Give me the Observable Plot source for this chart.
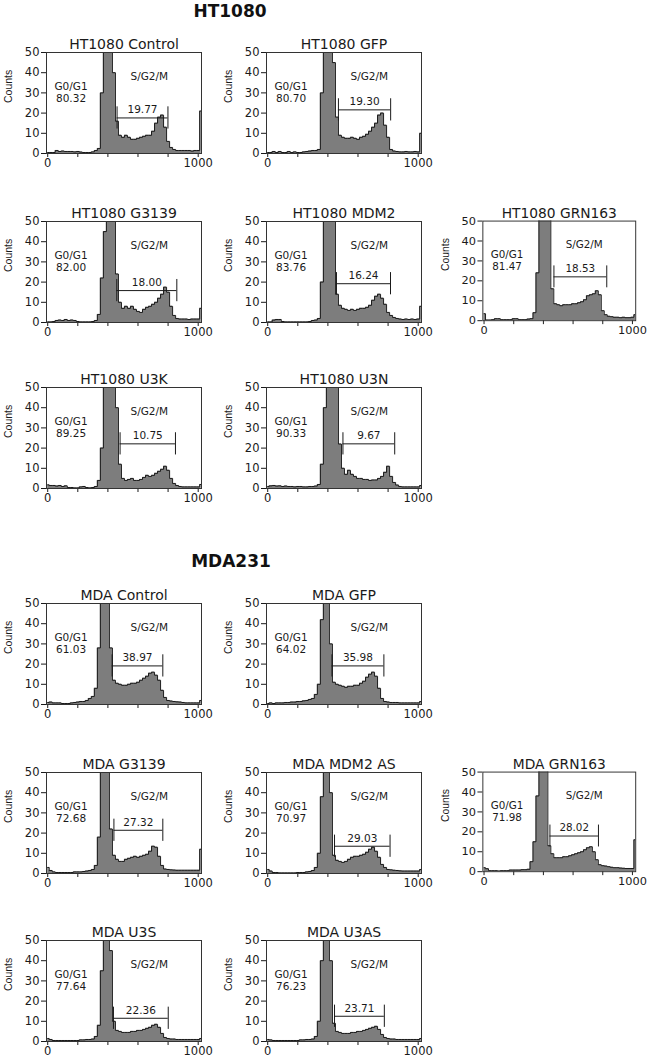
<!DOCTYPE html>
<html><head><meta charset="utf-8">
<script src="https://cdn.jsdelivr.net/npm/d3@7"></script>
<script src="https://cdn.jsdelivr.net/npm/@observablehq/plot@0.6"></script>
<style>
body{margin:0;background:#fff;}
#wrap{position:relative;width:650px;height:1058px;overflow:hidden;background:#fff;font-family:"DejaVu Sans";color:#111;}
.panel{position:absolute;}
.sec{position:absolute;font-weight:bold;font-size:17px;line-height:17px;transform:translateX(-50%);white-space:nowrap;}
</style></head><body><div id="wrap"></div>
<script>
// DNA content channels (bin positions)
const channels = [0,20,40,60,80,100,120,140,160,180,200,220,240,260,280,300,320,340,360,380,400,420,440,460,480,500,520,540,560,580,600,620,640,660,680,700,720,740,760,780,800,820,840,860,880,900,920,940,960,980,1000,1020];
const xTicks = [0,200,400,600,800,1000];
const yTicks = [0,10,20,30,40,50];

// counts per panel
const ht_control = [0.5,0.5,0.5,1.5,1,1.2,1,1,1,0.8, 1,0.7,0.5,0.5,0.5,0.8,1.5,2.5,30,80, 90,70,40,16,9,8,9,8,7,7, 7.5,8,8.5,9,9,11,15,18,19,13, 6,3,2,1.5,1.5,1.5,1.5,1.5,1.2,1.5, 1.5,21];
const ht_gfp = [0.5,0.5,1,0.5,1,0.5,0.5,1,0.5,0.8, 0.5,0.5,0.8,1,1.2,1.5,1.5,2,30,70, 95,80,45,18,9,8,7.5,7.5,8,7.5, 7,8,8.5,9.5,11,13,15,19,20,14, 8,2,1.2,1,0.8,0.8,1,0.8,0.8,1, 0.8,10];
const ht_g3139 = [0.3,0.3,0.5,1,1.2,1,1.5,1,1.2,1, 0.5,0.3,0.3,0.3,0.3,0.5,1,4,22,45, 90,85,60,24,10,7,8,7,8,6.5, 5.5,5,6.5,7.5,8,9,10,12,14,17.5, 15,8,3.5,2,1.7,1.7,1.7,1.5,1.7,1.7, 1.7,7];
const ht_mdm2 = [0.3,0.3,1.2,1.5,1.5,0.5,0.3,0.3,0.3,0.3, 0.3,0.3,0.3,0.3,0.5,1,1.2,2,20,55, 95,90,60,14,8.5,7,6.5,6,6.5,6, 6.5,7,7,7.5,8.5,11,13,14,12,9, 5,3.5,2.5,2,1.7,1.5,1.7,1.5,1.7,1.5, 1.7,8];
const ht_grn163 = [3.5,0.3,0.3,0.5,1,1,0.5,0.5,0.5,0.5, 1,1,0.5,0.5,0.5,0.8,1,4,24,60, 90,85,55,16,8.5,8,7.5,8,8,8, 8.5,8.5,9,9.5,10.5,12.5,13,13.5,15,13, 5,3,2.2,2,1.7,1.7,1.5,1.7,1.5,1.5, 1.7,3];
const ht_u3k = [1.8,1.5,1.5,1.2,1.5,1,1.3,0.5,0.5,0.3, 0.3,0.8,1,0.5,0.3,0.5,1,4,20,60, 100,100,80,40,12,5,4,4.5,5,4, 4,4.5,5.5,6.5,6,6.5,7.5,8.5,9.5,11, 9,5,2.5,1.5,1,0.8,0.8,0.8,0.8,0.8, 0.8,2];
const ht_u3n = [1,1.3,1.5,1.2,1.3,1,1.2,1,1,0.8, 1,1,0.8,0.8,1,1,1.2,2,12,40, 90,100,95,70,22,10,7,9,7,6, 5,5,4.5,4.5,4,4.2,4.2,5,6,8, 11,6,3,1.7,1,0.8,0.8,0.8,0.8,0.8, 0.8,1.5];
const mda_control = [1,1.2,0.8,0.8,0.8,0.5,0.5,0.5,0.8,1, 1.2,1.5,1.5,2,3,4,8,28,60,90, 75,28,12,10.5,10,9.5,9.5,10,10.5,10.5, 11,12,13,14,15.5,16,14.5,12,7,3.5, 2,1.7,1.5,1.3,1.2,1,0.8,0.8,0.8,0.8, 0.8,2];
const mda_gfp = [0.5,0.8,0.5,0.8,0.8,0.8,1,1,1.2,1.2, 1.5,1.5,1.8,2,2.5,3,5,10,42,80, 65,30,11,10,9.5,9,8.5,9,9,9.5, 9.5,10.5,11.5,13.5,15,16,14,8,3,1.5, 1.2,1,1,1,0.8,0.8,0.8,0.8,0.8,0.8, 0.8,1.5];
const mda_g3139 = [3,1.5,0.8,0.5,0.5,0.5,0.5,0.5,0.5,0.8, 0.8,0.8,1,1.2,1.5,2,4,18,50,85, 70,22,9,7,6,6,7,7.5,8,8.5, 8,8.5,9,9.5,11,13.5,13,8.5,4,2.2, 2,1.8,1.7,1.6,1.6,1.6,1.6,1.6,1.6,1.6, 1.6,12];
const mda_mdm2as = [2,1.2,0.5,0.5,0.3,0.3,0.3,0.3,0.3,0.3, 0.5,0.5,0.5,0.8,1,1.5,3,10,38,85, 85,40,9,6.5,6,5.5,6,7,8,8.5, 8.5,9,9.5,10.5,12,13,11,8,4.5,3, 2,1.8,1.6,1.5,1.3,1.2,1.2,1.2,1.2,1.2, 1.2,2];
const mda_grn163 = [2,1.5,0.5,0.5,0.5,0.3,0.5,0.5,0.5,0.8, 0.8,0.8,0.8,1,1,1.2,5,15,38,85, 90,55,13,9,7,7,7,7.5,7.5,8, 8.5,9,9.5,10,11,12,12.5,10,6,3.5, 3,2.8,2.5,2.2,2,2,1.8,1.7,1.6,1.6, 1.6,16];
const mda_u3s = [1.5,1,0.5,0.5,0.5,0.5,0.5,0.5,0.5,0.5, 0.5,0.8,0.8,1,1,1.2,2.5,8,35,85, 90,45,10,5.5,5,4.5,4.5,4.5,5,5, 5.5,5.5,6,6.5,7,8,8.5,7,4,2, 1.5,1.2,1.2,1,1,1,1,1,1,1, 1,1.5];
const mda_u3as = [1,0.8,0.5,0.5,0.5,0.5,0.5,0.5,0.5,0.5, 0.5,0.8,0.8,1,1,1.2,2.5,10,40,85, 85,40,9,5,4.5,4,4,4,4.5,4.5, 5,5,5.5,6,6.5,7,7.5,6,3.5,2, 1.5,1.2,1.2,1,1,1,1,1,1,1, 1,1.5];

const panelNames = ["HT1080 Control","HT1080 GFP","HT1080 G3139","HT1080 MDM2","HT1080 GRN163","HT1080 U3K","HT1080 U3N",
  "MDA Control","MDA GFP","MDA G3139","MDA MDM2 AS","MDA GRN163","MDA U3S","MDA U3AS"];
const panelCounts = [ht_control,ht_gfp,ht_g3139,ht_mdm2,ht_grn163,ht_u3k,ht_u3n,
  mda_control,mda_gfp,mda_g3139,mda_mdm2as,mda_grn163,mda_u3s,mda_u3as];
const g1Values = ["80.32","80.70","82.00","83.76","81.47","89.25","90.33","61.03","64.02","72.68","70.97","71.98","77.64","76.23"];
const sValues = ["19.77","19.30","18.00","16.24","18.53","10.75","9.67","38.97","35.98","27.32","29.03","28.02","22.36","23.71"];
// S/G2/M gate: start channel, end channel, drawn count level
const gateLo = [461,470,459,457,471,481,500,428,427,440,444,444,437,444];
const gateHi = [799,817,858,816,827,849,844,765,772,765,813,771,801,775];
const gateLevel = [17.6,21.6,15.8,19.2,22,22.1,22.1,19.1,19.1,21.4,13.5,17.9,11.5,12.5];

// grid cell of each panel
const panelCol = [0,1,0,1,2,0,1,0,1,0,1,2,0,1];
const panelRow = [0,0,1,1,1,2,2,3,3,4,4,4,5,5];
const colLeft = [0,220,437];
const rowTop = [22,191,357,573,742,910];

const wrap = document.getElementById("wrap");

function addSection(text, x, y) {
  const d = document.createElement("div");
  d.className = "sec"; d.textContent = text;
  d.style.left = x + "px"; d.style.top = y + "px";
  wrap.appendChild(d);
}
addSection("HT1080", 230, 3);
addSection("MDA231", 231, 553);

const ink = "#1a1a1a";
panelNames.forEach((name, k) => {
  const counts = panelCounts[k];
  const data = channels.map((x, i) => ({x, y: counts[i]}));
  const lo = gateLo[k], hi = gateHi[k], lv = gateLevel[k];
  const svg = Plot.plot({
    width: 216, height: 153,
    marginLeft: 46, marginRight: 15, marginTop: 30, marginBottom: 22,
    style: {fontFamily: "DejaVu Sans", fontSize: "11.5px", background: "transparent", color: ink},
    x: {domain: [-8, 1022], ticks: xTicks, tickFormat: d => (d === 0 || d === 1000) ? String(d) : "", tickSize: 4, tickPadding: 1, label: null},
    y: {domain: [0, 50], ticks: yTicks, tickSize: 5, tickPadding: 2, label: null},
    marks: [
      Plot.areaY(data, {x: "x", y: "y", curve: "step", fill: "#7d7d7d", clip: true}),
      Plot.lineY(data, {x: "x", y: "y", curve: "step", stroke: ink, strokeWidth: 1, clip: true}),
      Plot.frame({stroke: "#333"}),
      Plot.ruleY([lv], {x1: lo, x2: hi, stroke: ink, strokeWidth: 1}),
      Plot.ruleX([lo, hi], {y1: lv - 5.5, y2: lv + 5.5, stroke: ink, strokeWidth: 1}),
      Plot.text([sValues[k]], {x: (lo + hi) / 2, y: lv, dy: -8, fontSize: 10.5, fill: ink}),
      Plot.text(["G0/G1"], {x: 155, y: 33, fontSize: 10.5, fill: ink}),
      Plot.text([g1Values[k]], {x: 155, y: 27, fontSize: 10.5, fill: ink}),
      Plot.text(["S/G2/M"], {x: 675, y: 38, fontSize: 10.5, fill: ink}),
      Plot.text([name], {frameAnchor: "top", dy: -13, fontSize: 14, fill: ink}),
      Plot.text(["Counts"], {frameAnchor: "left", dx: -38, rotate: -90, fontSize: 10.5, fontFamily: "Liberation Sans", fill: ink})
    ]
  });
  const div = document.createElement("div");
  div.className = "panel";
  div.style.left = colLeft[panelCol[k]] + "px";
  div.style.top = rowTop[panelRow[k]] + "px";
  div.appendChild(svg);
  wrap.appendChild(div);
});
</script></body></html>
